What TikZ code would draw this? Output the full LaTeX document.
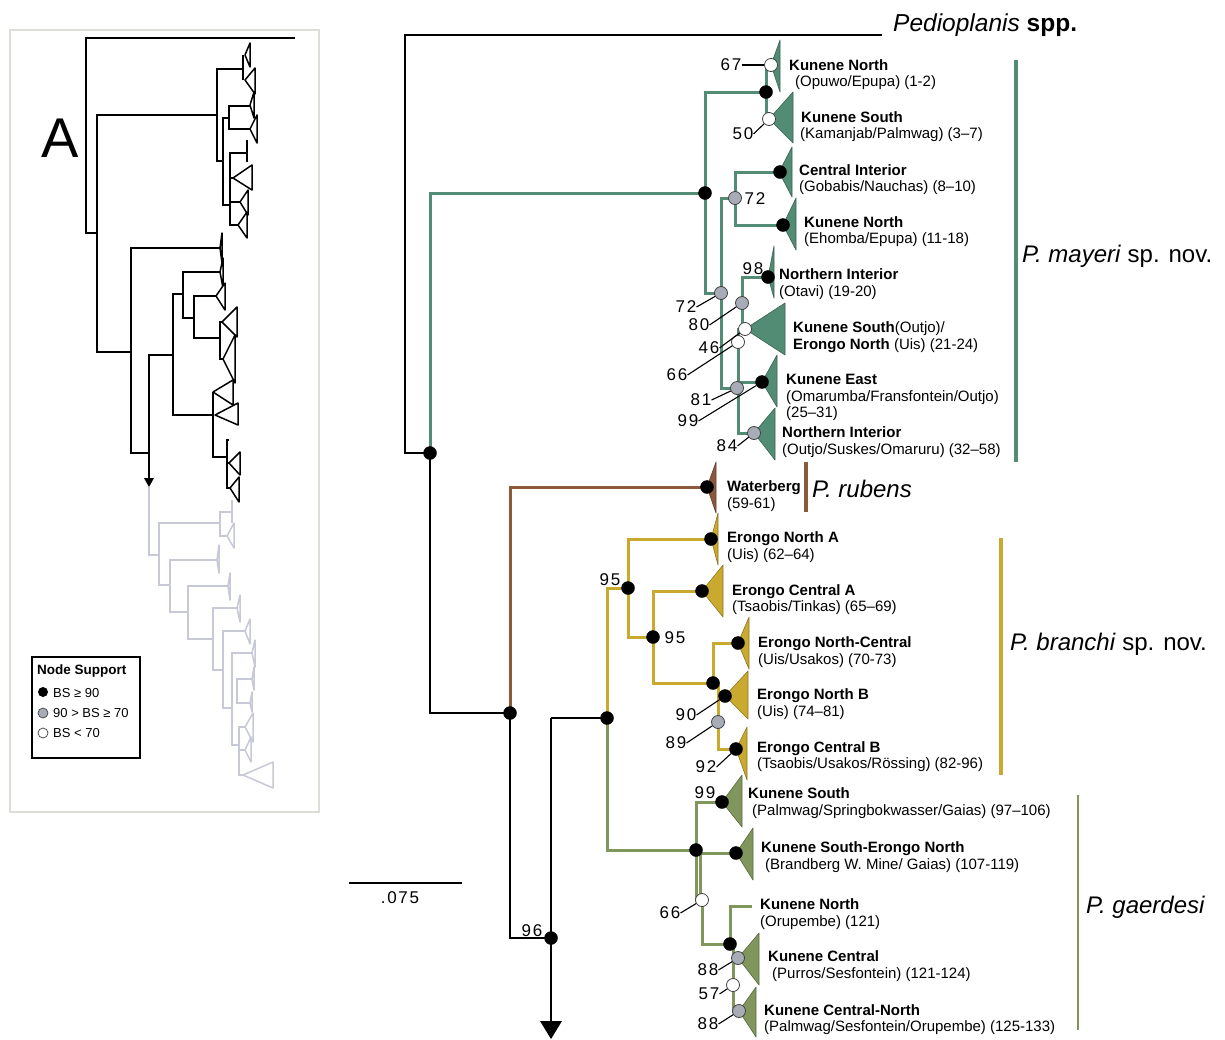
\documentclass[tikz,border=0pt]{standalone}
\usepackage{fontspec}
\setmainfont{Liberation Sans}
\newfontfamily\numfont[LetterSpace=10]{Liberation Sans}
\usetikzlibrary{calc}
\pgfdeclarelayer{bg}
\pgfsetlayers{bg,main}
\definecolor{cmay}{RGB}{82,140,117}
\definecolor{crub}{RGB}{139,90,60}
\definecolor{cbra}{RGB}{201,170,46}
\definecolor{cgae}{RGB}{128,150,92}
\definecolor{cnodeg}{RGB}{168,172,182}
\definecolor{cinset}{RGB}{200,201,214}
\definecolor{cframe}{RGB}{222,222,216}
\tikzset{
  bn/.style={circle, fill=black, draw=black, line width=0.4pt, minimum size=13pt, inner sep=0pt},
  gn/.style={circle, fill=cnodeg, draw=black!75, line width=0.8pt, minimum size=13pt, inner sep=0pt},
  wn/.style={circle, fill=white, draw=black!75, line width=0.8pt, minimum size=13pt, inner sep=0pt},
  tb/.style={anchor=base west, inner sep=0pt, font=\fontsize{15}{17}\selectfont\bfseries},
  tr/.style={anchor=base west, inner sep=0pt, font=\fontsize{15}{17}\selectfont},
  num/.style={inner sep=0pt, font=\numfont\fontsize{17}{17}\selectfont},
  sp/.style={anchor=base west, inner sep=0pt, font=\fontsize{24}{28}\selectfont},
  lead/.style={line width=1.1pt, black},
  blk/.style={line width=1.8pt, black},
  blkt/.style={line width=2.8pt, black},
  grnl/.style={line width=3pt, cmay},
  brnl/.style={line width=3pt, crub},
  yell/.style={line width=3pt, cbra},
  olvl/.style={line width=3pt, cgae},
  trig/.style={fill=cmay, draw=cmay!70!black, line width=0.6pt, line join=round},
  trir/.style={fill=crub, draw=crub!70!black, line width=0.6pt, line join=round},
  triy/.style={fill=cbra, draw=cbra!70!black, line width=0.6pt, line join=round},
  trio/.style={fill=cgae, draw=cgae!70!black, line width=0.6pt, line join=round},
  insb/.style={line width=1.5pt, black},
  insg/.style={line width=1.5pt, cinset},
  insbt/.style={draw=black, line width=1.5pt, fill=white, line join=round},
  insgt/.style={draw=cinset, line width=1.5pt, fill=white, line join=round},
  leg/.style={anchor=base west, inner sep=0pt, font=\fontsize{13}{15}\selectfont},
}
\begin{document}
\begin{tikzpicture}[x=1pt,y=-1pt]
\useasboundingbox (0,0) rectangle (1225,1039);

% ---------------- nodes ----------------
\coordinate (pedend) at (882,35);
\coordinate (r0) at (405,453);
\node[bn] (nroot) at (430,453) {};
\node[bn] (nG) at (705,193) {};
\node[bn] (nB) at (510,713) {};
\node[bn] (nW) at (707,487) {};
\node[bn] (n96) at (551,938) {};
\node[bn] (nY) at (607,718) {};
\coordinate (c551) at (551,718);
\coordinate (arrtop) at (551,1022);

% green
\node[bn] (gKN) at (766,92) {};
\node[wn] (g67) at (771,65) {};
\node[wn] (g50) at (769,119) {};
\node[gn] (g72a) at (721,293) {};
\node[gn] (g72b) at (735,198) {};
\node[bn] (gCI) at (780,172) {};
\node[bn] (gKN2) at (783,225) {};
\node[gn] (g81) at (737,388) {};
\node[bn] (g98) at (768,277) {};
\node[gn] (g80) at (742,303) {};
\node[wn] (g46) at (745,329) {};
\node[wn] (g66) at (738,342) {};
\node[bn] (g99) at (762,382) {};
\node[gn] (g84) at (754,433) {};

% yellow
\node[bn] (y95a) at (628,588) {};
\node[bn] (yA) at (711,539) {};
\node[bn] (y95b) at (653,637) {};
\node[bn] (yCA) at (702,591) {};
\node[bn] (yNB0) at (713,683) {};
\node[bn] (yNC) at (738,643) {};
\node[bn] (y90) at (725,696) {};
\node[gn] (y89) at (718,722) {};
\node[bn] (yCB) at (736,749) {};

% olive
\node[bn] (oN) at (696,850) {};
\node[bn] (o99) at (722,802) {};
\node[bn] (oKSE) at (736,853) {};
\node[wn] (o66) at (702,900) {};
\node[bn] (oKC0) at (730,944) {};
\coordinate (oKNend) at (752,906);
\node[gn] (o88a) at (738,958) {};
\node[wn] (o57) at (733,985) {};
\node[gn] (o88b) at (739,1011) {};

% ---------------- branches (background layer) ----------------
\begin{pgfonlayer}{bg}
\fill[white] (0,0) rectangle (1225,1039);
\draw[blk] (pedend) -| (r0) -- (nroot.center);
\draw[grnl] (nroot.center) |- (nG.center);
\draw[blk] (nroot.center) |- (nB.center);
\draw[brnl] (nB.center) |- (nW.center);
\draw[blk] (nB.center) |- (n96.center);
\draw[blk] (c551) -- (nY.center);
\draw[blkt] (c551) -- (arrtop);
\fill[black] (540,1021) -- (562,1021) -- (551,1039) -- cycle;

% green clade
\draw[grnl] (nG.center) |- (gKN.center);
\draw[grnl] (g67.center) -| (gKN.center) |- (g50.center);
\draw[grnl] (nG.center) |- (g72a.center);
\draw[grnl] (g72a.center) |- (g72b.center);
\draw[grnl] (gCI.center) -| (g72b.center) |- (gKN2.center);
\draw[grnl] (g72a.center) |- (g81.center);
\draw[grnl] (g46.center) -| (g80.center) |- (g98.center);
\draw[grnl] (g46.center) -| (g66.center) |- (g84.center);
\draw[grnl] (g66.center) |- (g99.center);

% yellow clade
\draw[yell] (nY.center) |- (y95a.center);
\draw[yell] (yA.center) -| (y95a.center) |- (y95b.center);
\draw[yell] (yCA.center) -| (y95b.center) |- (yNB0.center);
\draw[yell] (yNC.center) -| (yNB0.center);
\draw[yell] (yNB0.center) -- ++(5,0) |- (yCB.center);
\draw[yell] (y89.center |- y90.center) -- (y90.center);

% olive clade
\draw[olvl] (nY.center) |- (oN.center);
\draw[olvl] (o99.center) -| (oN.center) |- (o66.center);
\draw[olvl] (o66.center) ++(-2,0) |- (oKSE.center);
\draw[olvl] (o66.center) |- (oKC0.center);
\draw[olvl] (oKNend) -| (oKC0.center);
\draw[olvl] (oKC0.center) ++(3,0) |- (o88b.center);

% collapsed clades
\draw[trig] (771,65) -- (780,40) -- (780,92) -- cycle;
\draw[trig] (769,119) -- (793,92) -- (793,143) -- cycle;
\draw[trig] (779,172) -- (792,147) -- (792,197) -- cycle;
\draw[trig] (783,225) -- (796,198) -- (796,250) -- cycle;
\draw[trig] (768,277) -- (774,246) -- (774,298) -- cycle;
\draw[trig] (745,329) -- (785,303) -- (785,355) -- cycle;
\draw[trig] (762,382) -- (777,355) -- (777,407) -- cycle;
\draw[trig] (754,433) -- (775,408) -- (775,460) -- cycle;
\draw[trir] (707,487) -- (716,462) -- (716,513) -- cycle;
\draw[triy] (711,539) -- (718,513) -- (718,565) -- cycle;
\draw[triy] (702,591) -- (723,565) -- (723,617) -- cycle;
\draw[triy] (738,643) -- (749,617) -- (749,669) -- cycle;
\draw[triy] (725,696) -- (748,671) -- (748,719) -- cycle;
\draw[triy] (736,749) -- (747,727) -- (747,780) -- cycle;
\draw[trio] (722,802) -- (742,775) -- (742,827) -- cycle;
\draw[trio] (736,853) -- (753,828) -- (753,880) -- cycle;
\draw[trio] (738,958) -- (759,933) -- (759,985) -- cycle;
\draw[trio] (739,1011) -- (756,987) -- (756,1037) -- cycle;

% clade bars
\draw[line width=3.2pt, cmay] (1016,60) -- (1016,462);
\draw[line width=3.2pt, crub] (806,462) -- (806,512);
\draw[line width=3.2pt, cbra] (1001,538) -- (1001,775);
\draw[line width=2.8pt, cgae] (1078,795) -- (1078,1030);

% ---------------- inset panel A ----------------
\draw[cframe, line width=1.8pt] (10,30) rectangle (319,812);
\draw[insb] (295,38) -- (86,38) -- (86,233) -- (97,233);
\draw[insb] (217,115) -- (97,115) -- (97,352) -- (131,352);
\draw[insb] (243,69) -- (217,69) -- (217,161) -- (223,161);
\draw[insb] (229,118) -- (223,118) -- (223,205) -- (230,205);
\draw[insb] (250,106) -- (229,106) -- (229,129) -- (250,129);
\draw[insb] (243,55) -- (243,80);
\draw[insb] (247,153) -- (230,153) -- (230,225) -- (238,225);
\draw[insb] (230,178) -- (233,178);
\draw[insb] (230,202) -- (240,202);
\draw[insb] (247,140) -- (247,162);
\foreach \ax/\ay/\bx/\bt/\bb in {245/55/250/43/67, 245/80/255/68/94, 250/105/254/92/118, 250/129/257/115/143, 233/178/252/165/190, 240/202/248/190/215, 238/225/247/212/238}
  \draw[insbt] (\ax,\ay) -- (\bx,\bt) -- (\bx,\bb) -- cycle;
\draw[insb] (220,248) -- (131,248) -- (131,453) -- (149,453);
\draw[insb] (173,355) -- (149,355) -- (149,478);
\fill[black] (144,478) -- (154,478) -- (149,487) -- cycle;
\draw[insb] (183,294) -- (173,294) -- (173,415) -- (213,415);
\draw[insb] (220,272) -- (183,272) -- (183,318) -- (194,318);
\draw[insb] (216,296) -- (194,296) -- (194,338) -- (220,338);
\draw[insb] (222,322) -- (220,322) -- (220,359) -- (223,359);
\draw[insb] (213,392) -- (213,457) -- (227,457);
\draw[insb] (229,440) -- (227,440) -- (227,488) -- (230,488);
\draw[insb] (227,463) -- (229,463);
\foreach \ax/\ay/\bx/\bt/\bb in {220/248/222/233/263, 220/272/223/258/288, 216/296/225/283/310, 222/322/237/307/337, 223/359/235/335/383, 213/392/233/380/405, 215/415/238/403/425, 229/463/240/452/475, 230/488/239/477/502}
  \draw[insbt] (\ax,\ay) -- (\bx,\bt) -- (\bx,\bb) -- cycle;
\draw[insg] (149,487) -- (149,555) -- (159,555);
\draw[insg] (220,523) -- (159,523) -- (159,585) -- (170,585);
\draw[insg] (232,512) -- (220,512) -- (220,536) -- (227,536);
\draw[insg] (232,500) -- (232,523);
\draw[insg] (217,560) -- (170,560) -- (170,612) -- (188,612);
\draw[insg] (228,586) -- (188,586) -- (188,639) -- (213,639);
\draw[insg] (237,608) -- (213,608) -- (213,670) -- (223,670);
\draw[insg] (245,631) -- (223,631) -- (223,708) -- (232,708);
\draw[insg] (252,653) -- (232,653) -- (232,745) -- (239,745);
\draw[insg] (252,679) -- (237,679) -- (237,703) -- (250,703);
\draw[insg] (245,727) -- (239,727) -- (239,775) -- (243,775);
\draw[insg] (239,750) -- (245,750);
\foreach \ax/\ay/\bx/\bt/\bb in {227/536/234/523/548, 217/560/219/545/573, 228/586/230/573/600, 237/608/240/595/622, 245/631/250/619/644, 252/653/255/640/667, 252/679/254/667/690, 250/703/252/692/712, 245/727/253/713/742, 245/750/251/737/762, 243/775/273/762/788}
  \draw[insgt] (\ax,\ay) -- (\bx,\bt) -- (\bx,\bb) -- cycle;
\end{pgfonlayer}

% inset letter and legend
\node[anchor=base west, inner sep=0pt, font=\fontsize{56}{56}\selectfont] (lblA) at (41,157) {A};
\draw[black, line width=1.4pt, fill=white] (32,657) rectangle (140,758);
\node[leg, font=\fontsize{13.5}{15}\selectfont\bfseries] (legT) at (37,674) {Node Support};
\node[circle, fill=black, minimum size=10pt, inner sep=0pt] (legb) at (43,692) {};
\node[circle, fill=cnodeg, draw=black!75, line width=0.7pt, minimum size=10pt, inner sep=0pt] (legg) at (43,713) {};
\node[circle, fill=white, draw=black!75, line width=0.7pt, minimum size=10pt, inner sep=0pt] (legw) at (43,733) {};
\node[leg] (legbt) at (53,697) {BS ≥ 90};
\node[leg] (leggt) at (53,717) {90 > BS ≥ 70};
\node[leg] (legwt) at (53,737) {BS < 70};

% outgroup label & scale
\node[sp, font=\fontsize{24.5}{28}\selectfont] (tped) at (893,31) {\textit{Pedioplanis} \textbf{spp.}};
\coordinate (sb1) at (349,883);
\coordinate (sb2) at (462,883);
\draw[blk] (sb1) -- (sb2);
\node[num] (sbl) at (400,898) {.075};

% support values
\node[num] (l67) at (731,65) {67};
\node[num] (l50) at (743,134) {50};
\node[num] (l72b) at (755,199) {72};
\node[num] (l72a) at (686,307) {72};
\node[num] (l80) at (699,325) {80};
\node[num] (l46) at (709,348) {46};
\node[num] (l66) at (677,375) {66};
\node[num] (l81) at (701,400) {81};
\node[num] (l99) at (688,421) {99};
\node[num] (l84) at (727,446) {84};
\node[num] (l98) at (753,269) {98};
\node[num] (l95a) at (610,580) {95};
\node[num] (l95b) at (675,638) {95};
\node[num] (l90) at (686,715) {90};
\node[num] (l89) at (676,743) {89};
\node[num] (l92) at (706,767) {92};
\node[num] (lo99) at (705,793) {99};
\node[num] (lo66) at (670,913) {66};
\node[num] (l88a) at (708,970) {88};
\node[num] (l57) at (709,994) {57};
\node[num] (l88b) at (708,1024) {88};
\node[num] (l96) at (532,931) {96};

\draw[lead] (l67.east) -- (g67);
\draw[lead] (l50.east) -- (g50);
\draw[lead] (l72a.east) -- (g72a);
\draw[lead] (l80.east) -- (g80);
\draw[lead] (l46.east) -- (g46);
\draw[lead] (l66.east) -- (g66);
\draw[lead] (l81.east) -- (g81);
\draw[lead] (l99.east) -- (g99);
\draw[lead] (l84.east) -- (g84);
\draw[lead] (l90.east) -- (y90);
\draw[lead] (l89.east) -- (y89);
\draw[lead] (l92.east) -- (yCB);
\draw[lead] (lo66.east) -- (o66);
\draw[lead] (l88a.east) -- (o88a);
\draw[lead] (l57.east) -- (o57);
\draw[lead] (l88b.east) -- (o88b);

% clade labels
\node[tb] (t1a) at (789,70) {Kunene North};
\node[tr] (t1b) at (795,86) {(Opuwo/Epupa) (1-2)};
\node[tb] (t2a) at (801,122) {Kunene South};
\node[tr] (t2b) at (800,138) {(Kamanjab/Palmwag) (3–7)};
\node[tb] (t3a) at (799,175) {Central Interior};
\node[tr] (t3b) at (799,191) {(Gobabis/Nauchas) (8–10)};
\node[tb] (t4a) at (804,227) {Kunene North};
\node[tr] (t4b) at (804,243) {(Ehomba/Epupa) (11-18)};
\node[tb] (t5a) at (779,279) {Northern Interior};
\node[tr] (t5b) at (779,296) {(Otavi) (19-20)};
\node[tr] (t6a) at (793,332) {\textbf{Kunene South}(Outjo)/};
\node[tr] (t6b) at (793,349) {\textbf{Erongo North} (Uis) (21-24)};
\node[tb] (t7a) at (786,384) {Kunene East};
\node[tr] (t7b) at (786,401) {(Omarumba/Fransfontein/Outjo)};
\node[tr] (t7c) at (786,417) {(25–31)};
\node[tb] (t8a) at (782,437) {Northern Interior};
\node[tr] (t8b) at (782,454) {(Outjo/Suskes/Omaruru) (32–58)};
\node[tb] (t9a) at (727,491) {Waterberg};
\node[tr] (t9b) at (727,508) {(59-61)};
\node[tb] (t10a) at (727,542) {Erongo North A};
\node[tr] (t10b) at (727,559) {(Uis) (62–64)};
\node[tb] (t11a) at (732,595) {Erongo Central A};
\node[tr] (t11b) at (732,611) {(Tsaobis/Tinkas) (65–69)};
\node[tb] (t12a) at (758,647) {Erongo North-Central};
\node[tr] (t12b) at (758,664) {(Uis/Usakos) (70-73)};
\node[tb] (t13a) at (757,699) {Erongo North B};
\node[tr] (t13b) at (757,716) {(Uis) (74–81)};
\node[tb] (t14a) at (757,752) {Erongo Central B};
\node[tr] (t14b) at (757,768) {(Tsaobis/Usakos/Rössing) (82-96)};
\node[tb] (t15a) at (748,798) {Kunene South};
\node[tr] (t15b) at (752,815) {(Palmwag/Springbokwasser/Gaias) (97–106)};
\node[tb] (t16a) at (761,852) {Kunene South-Erongo North};
\node[tr] (t16b) at (765,869) {(Brandberg W. Mine/ Gaias) (107-119)};
\node[tb] (t17a) at (760,909) {Kunene North};
\node[tr] (t17b) at (760,926) {(Orupembe) (121)};
\node[tb] (t18a) at (768,961) {Kunene Central};
\node[tr] (t18b) at (772,978) {(Purros/Sesfontein) (121-124)};
\node[tb] (t19a) at (764,1015) {Kunene Central-North};
\node[tr] (t19b) at (764,1031) {(Palmwag/Sesfontein/Orupembe) (125-133)};

% species labels
\node[sp] (spmay) at (1022,262) {\textit{P. mayeri} sp. nov.};
\node[sp] (sprub) at (812,497) {\textit{P. rubens}};
\node[sp] (spbra) at (1010,650) {\textit{P. branchi} sp. nov.};
\node[sp] (spgae) at (1086,913) {\textit{P. gaerdesi}};
\end{tikzpicture}
\end{document}
